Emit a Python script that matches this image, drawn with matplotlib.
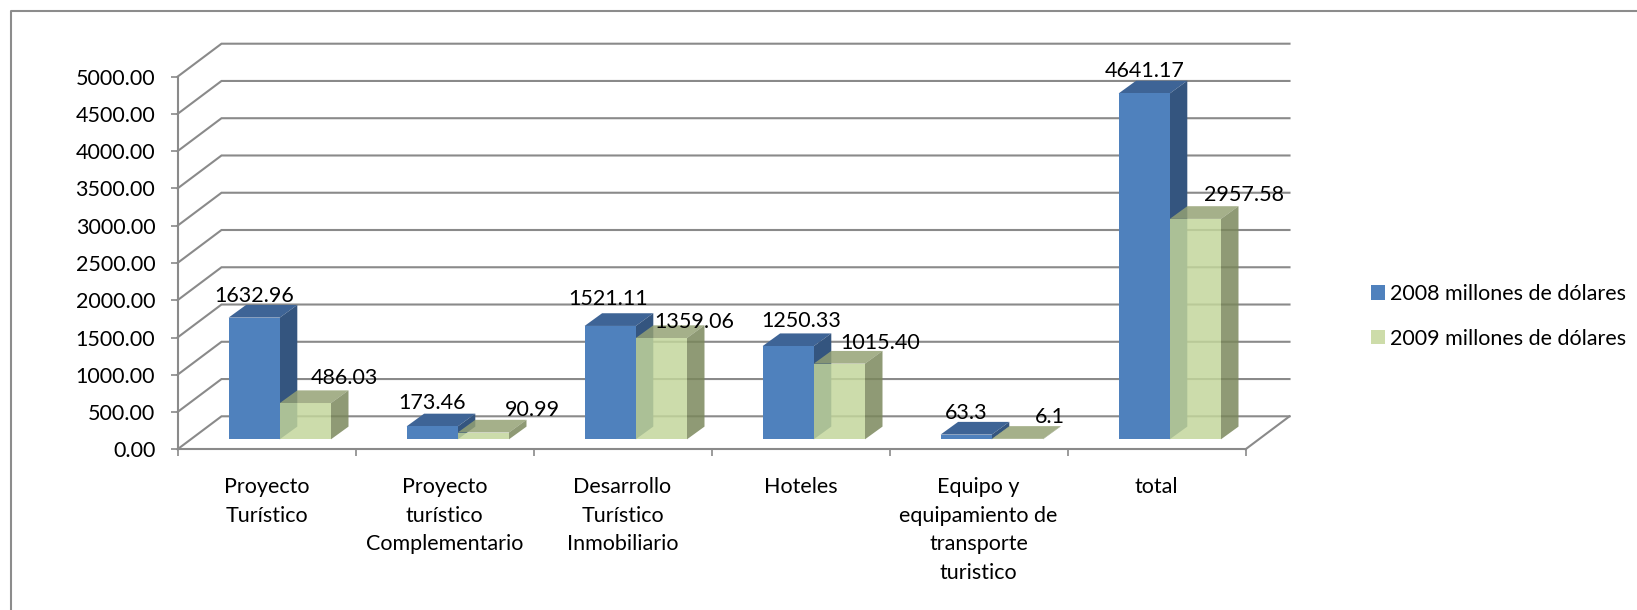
import numpy as np
import matplotlib
matplotlib.use("Agg")
import matplotlib.pyplot as plt
from matplotlib.patches import Polygon, Patch

categories = ["Proyecto\nTurístico", "Proyecto\nturístico\nComplementario",
              "Desarrollo\nTurístico\nInmobiliario", "Hoteles",
              "Equipo y\nequipamiento de\ntransporte\nturistico", "total"]
values_2008 = [1632.96, 173.46, 1521.11, 1250.33, 63.3, 4641.17]
values_2009 = [486.03, 90.99, 1359.06, 1015.40, 6.1, 2957.58]
labels_2008 = ["1632.96", "173.46", "1521.11", "1250.33", "63.3", "4641.17"]
labels_2009 = ["486.03", "90.99", "1359.06", "1015.40", "6.1", "2957.58"]
series_names = ["2008 millones de dólares", "2009 millones de dólares"]
y_ticks = [0, 500, 1000, 1500, 2000, 2500, 3000, 3500, 4000, 4500, 5000]

# label offsets from the front-top centre of each bar, in pixels
off_2008 = [(-0.5, 21.5), (-0.4, 23.7), (-2.3, 26.5), (12.6, 25.6), (-0.5, 21.8), (0.1, 22.4)]
off_2009 = [(38.6, 25.2), (48.9, 22.8), (32.4, 16.0), (40.6, 20.7), (32.6, 21.8), (48.6, 24.2)]

W, H = 1637, 610
plt.rcParams['font.family'] = ['Lato', 'DejaVu Sans']
FS = 15.5
GRID = '#8a8a8a'
fig = plt.figure(figsize=(W / 100, H / 100), dpi=100)

X0, X1, YB, YT = 177.5, 1245.5, 449.3, 76.7
ax = fig.add_axes([X0 / W, 1 - YB / H, (X1 - X0) / W, (YB - YT) / H])
ax.set_xlim(0, 6)
ax.set_ylim(0, 5000)
ax.patch.set_alpha(0)
px_x = 6 / (X1 - X0)
px_y = 5000 / (YB - YT)

def pt(x, v, dx=0.0, dy=0.0):
    return (x + dx * px_x, v + dy * px_y)

# chart frame (left and top only reach the image edges)
fig.add_artist(plt.Line2D([10.5 / W, 10.5 / W, 1], [0, 1 - 11 / H, 1 - 11 / H],
                          color='#8c8c8c', lw=1.5, transform=fig.transFigure))

# walls
WD = (44, 33)
for v in y_ticks:
    a, b = pt(0, v), pt(0, v, *WD)
    c = pt(6, v, *WD)
    ax.plot([a[0], b[0], c[0]], [a[1], b[1], c[1]], color=GRID, lw=1.5,
            clip_on=False, zorder=1, solid_joinstyle='miter')
a, b = pt(6, 0), pt(6, 0, *WD)
ax.plot([a[0], b[0]], [a[1], b[1]], color=GRID, lw=1.5, clip_on=False, zorder=1)

# bars
PLANE = (13.3, 10)
DEPTH = (17.5, 12.7)
BW = 51.2 * px_x
def draw(vals, j, front, side, top, alpha, z):
    xs = np.arange(len(vals)) + 0.5 + (j - 1) * BW
    x_f = xs + PLANE[0] * px_x
    v0 = PLANE[1] * px_y
    ax.bar(x_f, vals, BW, bottom=v0, align='edge', color=front, alpha=alpha,
           linewidth=0, zorder=z + 1, clip_on=False)
    for x, v in zip(x_f, vals):
        t = v + v0
        ax.add_patch(Polygon([pt(x, t), pt(x + BW, t), pt(x + BW, t, *DEPTH), pt(x, t, *DEPTH)],
                             closed=True, fc=top, ec='none', alpha=alpha, zorder=z, clip_on=False))
        ax.add_patch(Polygon([pt(x + BW, v0), pt(x + BW, t), pt(x + BW, t, *DEPTH), pt(x + BW, v0, *DEPTH)],
                             closed=True, fc=side, ec='none', alpha=alpha, zorder=z, clip_on=False))
    return x_f + BW / 2

cx08 = draw(values_2008, 0, '#4F81BD', '#34557F', '#3E6496', 1.0, 2)
cx09 = draw(values_2009, 1, '#C3D69B', '#7A875B', '#94A174', 0.84, 4)

# data labels
for cx, vals, texts, offs in [(cx08, values_2008, labels_2008, off_2008),
                              (cx09, values_2009, labels_2009, off_2009)]:
    for x, v, s, o in zip(cx, vals, texts, offs):
        ax.annotate(s, (x, v + PLANE[1] * px_y), xytext=o, textcoords='offset pixels',
                    ha='center', va='center', fontsize=FS, color='black', zorder=10,
                    annotation_clip=False)

# axes
for s in ('top', 'right'):
    ax.spines[s].set_visible(False)
for s in ('left', 'bottom'):
    ax.spines[s].set_color(GRID)
    ax.spines[s].set_linewidth(1.5)
    ax.spines[s].set_zorder(1)
ax.set_yticks(y_ticks)
ax.set_yticklabels([f"{v:.2f}" for v in y_ticks], fontsize=FS, color='black')
ax.tick_params(axis='y', length=5, width=1.2, color=GRID, pad=11)
ax.set_xticks(np.arange(0, 7))
ax.set_xticklabels([])
ax.tick_params(axis='x', which='major', length=5, width=1.2, color=GRID)
ax.set_xticks(np.arange(6) + 0.5, minor=True)
ax.set_xticklabels(categories, minor=True, fontsize=FS, color='black', linespacing=1.54, va='top')
ax.tick_params(axis='x', which='minor', length=0, pad=20)

# legend
handles = [Patch(fc='#4F81BD', ec='none', label=series_names[0]),
           Patch(fc='#CDDCA9', ec='none', label=series_names[1])]
fig.legend(handles=handles, loc='upper left', bbox_to_anchor=(1371 / W, 1 - 284 / H),
           frameon=False, fontsize=FS, borderpad=0, borderaxespad=0,
           handlelength=14 / (FS * 100 / 72), handleheight=14 / (FS * 100 / 72),
           handletextpad=5 / (FS * 100 / 72), labelspacing=1.14)

fig.savefig('out.png', dpi=100)
